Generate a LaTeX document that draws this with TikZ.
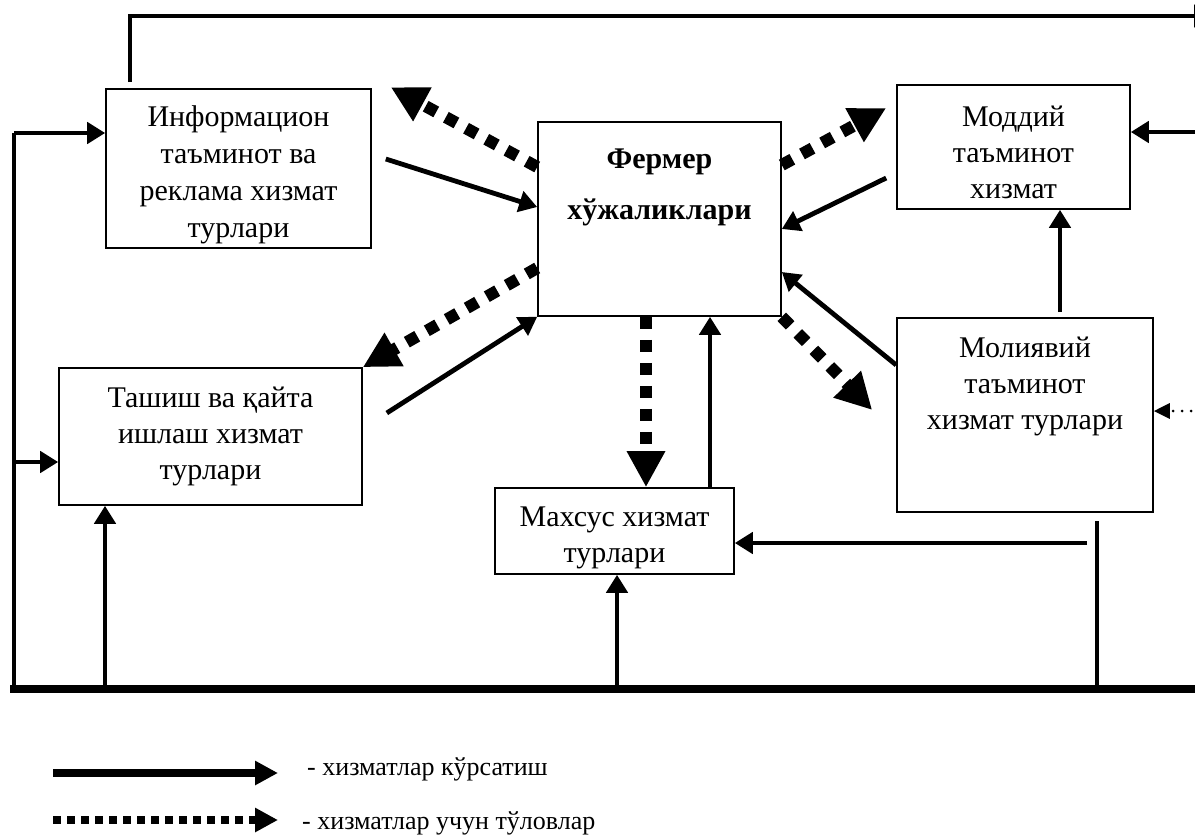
\documentclass[tikz,border=0pt]{standalone}
\usepackage{fontspec}
\setmainfont{Liberation Serif}
\usetikzlibrary{arrows.meta,calc}
\tikzset{
  box/.style={draw, line width=1.6pt, inner sep=0pt},
  txt/.style={align=center, inner sep=0pt, font=\fontsize{30}{36}\selectfont},
  conn/.style={line width=4.8pt, -{Triangle[length=18pt,width=21pt]}},
  plainline/.style={line width=4.8pt},
  baseline/.style={line width=8pt},
  pay/.style={line width=12pt, dash pattern=on 12pt off 11pt, -{Triangle[length=36pt,width=36pt]}},
  smallpay/.style={line width=3pt, line cap=round, dash pattern=on 0pt off 9pt, -{Triangle[length=16pt,width=15pt]}},
  legtxt/.style={inner sep=0pt, anchor=base west, font=\fontsize{26}{30}\selectfont}
}
\begin{document}
\begin{tikzpicture}[x=1pt,y=-1pt]
\useasboundingbox (0,0) rectangle (1195,839);
% boxes
\node[box, minimum width=265pt, minimum height=159pt] (info) at (238.5,168.5) {};
\node[box, minimum width=243pt, minimum height=194pt] (fermer) at (659.5,219) {};
\node[box, minimum width=233pt, minimum height=124pt] (moddiy) at (1013.5,147) {};
\node[box, minimum width=256pt, minimum height=194pt] (moliya) at (1025,415) {};
\node[box, minimum width=303pt, minimum height=137pt] (tashish) at (210.5,436.5) {};
\node[box, minimum width=239pt, minimum height=86pt] (mahsus) at (614.5,531) {};
% texts
\node[txt, font=\fontsize{30}{36.8}\selectfont] (info-t) at (238.5,175) {Информацион\\таъминот ва\\реклама хизмат\\турлари};
\node[txt, font=\bfseries\fontsize{30}{51}\selectfont] (fermer-t) at (659.5,187) {Фермер\\хўжаликлари};
\node[txt] (moddiy-t) at (1013.5,152) {Моддий\\таъминот\\хизмат};
\node[txt] (moliya-t) at (1025,386) {Молиявий\\таъминот\\хизмат турлари};
\node[txt] (tashish-t) at (210.5,436) {Ташиш ва қайта\\ишлаш хизмат\\турлари};
\node[txt] (mahsus-t) at (614.5,537.5) {Махсус хизмат\\турлари};
% frame coordinates
\coordinate (lb) at (14,689);
\coordinate (lt) at (14,133);
\coordinate (lm) at (14,462);
\coordinate (bl) at (10,689);
\coordinate (br) at (1200,689);
\coordinate (b1) at (105,689);
\coordinate (b2) at (617,685);
\coordinate (b3) at (1097,689);
\coordinate (c1) at (1087,543);
\coordinate (r1) at (1200,132);
\coordinate (r2) at (1200,411);
\coordinate (t1) at (1212,16);
% frame lines
\draw[baseline] (bl) -- (br);
\draw[plainline] (lb) -- (lt);
\draw[conn] (lt) -- (lt -| info.west);
\draw[conn] (lm) -- (lm -| tashish.west);
\draw[conn] (b1) -- (b1 |- tashish.south);
\draw[conn] (b2) -- (b2 |- mahsus.south);
\draw[plainline] (b3) -- ($(b3 |- moliya.south)+(0,8)$);
\draw[conn] (c1) -- (c1 -| mahsus.east);
\draw[conn] (r1) -- (r1 -| moddiy.east);
\draw[smallpay] (r2) -- (r2 -| moliya.east);
\draw[line width=4.8pt, -{Triangle[length=18pt,width=22pt]}] ($(info.north)+(-108.5,-6)$) |- (t1);
% service arrows
\draw[conn] ($(info.east)+(14,-9.5)$) -- ($(fermer.west)+(0,-12)$);
\draw[conn] ($(moddiy.west)+(-10,31)$) -- ($(fermer.east)+(0,10)$);
\draw[conn] ($(tashish.east)+(24,-23.5)$) -- (fermer.south west);
\draw[conn] ($(moliya.west)+(0,-50)$) -- ($(fermer.east)+(0,53)$);
\draw[conn] ($(mahsus.north)+(95.5,0)$) -- ($(fermer.south)+(50.5,0)$);
\draw[conn] ($(moliya.north)+(35,-5)$) -- ($(moddiy.south)+(46.5,0)$);
% payment arrows
\draw[pay] ($(fermer.west)+(0,-52)$) -- ($(info.north east)+(19,-1)$);
\draw[pay] ($(fermer.east)+(0,-54)$) -- ($(moddiy.west)+(-10,-39)$);
\draw[pay] ($(fermer.west)+(0,49)$) -- (tashish.north east);
\draw[pay] (fermer.south east) -- ($(moliya.west)+(-24,-5)$);
\draw[pay] ($(fermer.south)+(-13.5,0)$) -- ($(mahsus.north)+(31.5,0)$);
% legend
\coordinate (l1s) at (53,773);
\coordinate (l1e) at (278,773);
\coordinate (l2s) at (53,820);
\coordinate (l2e) at (278,820);
\draw[line width=8pt, -{Triangle[length=23pt,width=23pt]}] (l1s) -- (l1e);
\draw[line width=7.5pt, dash pattern=on 7.5pt off 6.5pt, -{Triangle[length=23pt,width=23pt]}] (l2s) -- (l2e);
\node[legtxt] (leg1) at (307,775) {- хизматлар кўрсатиш};
\node[legtxt] (leg2) at (302,829) {- хизматлар учун тўловлар};
\end{tikzpicture}
\end{document}
